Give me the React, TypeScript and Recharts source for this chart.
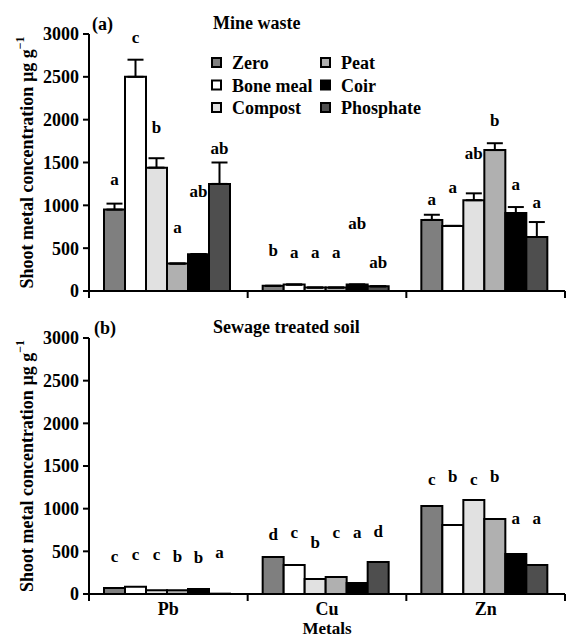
import React from 'react';
import { BarChart, Bar, XAxis, YAxis, ErrorBar, LabelList } from 'recharts';

// ---------- data ----------
const metals = ['Pb', 'Cu', 'Zn'];
const treatments = ['Zero', 'Bone meal', 'Compost', 'Peat', 'Coir', 'Phosphate'];
const treatmentColors = ['#7f7f7f', '#ffffff', '#e1e1e1', '#b0b0b0', '#000000', '#4e4e4e'];
const yTicks = [0, 500, 1000, 1500, 2000, 2500, 3000];

// (a) Mine waste — one list per metal, in treatment order
const minePb = [950, 2500, 1440, 320, 430, 1250];
const mineCu = [60, 75, 40, 40, 75, 55];
const mineZn = [830, 760, 1060, 1645, 910, 630];
const mineErrPb = [70, 200, 110, 0, 0, 250];
const mineErrCu = [0, 0, 0, 0, 0, 0];
const mineErrZn = [60, 0, 80, 80, 70, 175];
const mineLettersPb = ['a', 'c', 'b', 'a', 'ab', 'ab'];
const mineLettersCu = ['b', 'a', 'a', 'a', 'ab', 'ab'];
const mineLettersZn = ['a', 'a', 'ab', 'b', 'a', 'a'];
const mineLetterHeightPb = [1237, 2895, 1844, 677, 1097, 1599];
const mineLetterHeightCu = [409, 385, 385, 385, 724, 268];
const mineLetterHeightZn = [1004, 1144, 1541, 1926, 1179, 969];

// (b) Sewage treated soil
const sewagePb = [70, 85, 45, 45, 60, 4];
const sewageCu = [434, 340, 176, 200, 130, 375];
const sewageZn = [1032, 809, 1102, 879, 469, 340];
const sewageLettersPb = ['c', 'c', 'c', 'b', 'b', 'a'];
const sewageLettersCu = ['d', 'c', 'b', 'c', 'a', 'd'];
const sewageLettersZn = ['c', 'b', 'c', 'b', 'a', 'a'];
const sewageLetterHeightPb = [370, 395, 395, 375, 365, 420];
const sewageLetterHeightCu = [633, 656, 539, 656, 656, 668];
const sewageLetterHeightZn = [1277, 1312, 1277, 1312, 820, 820];

// ---------- helpers ----------
const FONT = 'Liberation Serif';
const PLOT_LEFT = 89;
const PLOT_RIGHT = 565;
const BAND = (PLOT_RIGHT - PLOT_LEFT) / metals.length;

function buildRows(
  means: number[][],
  errs: number[][] | null,
  letters: string[][],
  heights: number[][]
) {
  return metals.map((m, i) => {
    const row: any = { metal: m };
    treatments.forEach((_, j) => {
      row[`v${j}`] = means[i][j];
      row[`e${j}`] = [0, errs ? errs[i][j] : 0];
      row[`l${j}`] = letters[i][j];
      row[`h${j}`] = heights[i][j];
    });
    return row;
  });
}

const mineRows = buildRows(
  [minePb, mineCu, mineZn],
  [mineErrPb, mineErrCu, mineErrZn],
  [mineLettersPb, mineLettersCu, mineLettersZn],
  [mineLetterHeightPb, mineLetterHeightCu, mineLetterHeightZn]
);
const sewageRows = buildRows(
  [sewagePb, sewageCu, sewageZn],
  null,
  [sewageLettersPb, sewageLettersCu, sewageLettersZn],
  [sewageLetterHeightPb, sewageLetterHeightCu, sewageLetterHeightZn]
);

const XTick = (props: any) => {
  const { x, y, payload, index, showLabels } = props;
  const right = x + BAND / 2;
  const left = x - BAND / 2;
  return (
    <g>
      {index === 0 && <line x1={left} y1={y} x2={left} y2={y + 7} stroke="#000" strokeWidth={2} />}
      <line x1={right} y1={y} x2={right} y2={y + 7} stroke="#000" strokeWidth={2} />
      {showLabels && (
        <text x={x} y={y + 21} textAnchor="middle" fontFamily={FONT} fontWeight="bold" fontSize={18} fill="#000">
          {payload.value}
        </text>
      )}
    </g>
  );
};

const YLabel = (props: any) => {
  const vb = props.viewBox || {};
  const cx = 27;
  const cy = (vb.y ?? 0) + (vb.height ?? 0) / 2;
  return (
    <text
      x={cx}
      y={cy}
      transform={`rotate(-90, ${cx}, ${cy})`}
      textAnchor="middle"
      dominantBaseline="central"
      fontFamily={FONT}
      fontWeight="bold"
      fontSize={18}
      fill="#000"
    >
      Shoot metal concentration µg g<tspan dy={-7} fontSize={12}>−1</tspan>
    </text>
  );
};

function Panel({ rows, height, top, bottom, showErrors, showXLabels }: any) {
  const plotH = height - top - bottom;
  const k = plotH / 3000;
  return (
    <BarChart
      width={567}
      height={height}
      data={rows}
      margin={{ top, right: 2, bottom: 0, left: 39 }}
      barCategoryGap={15}
      barGap={0}
      style={{ fontFamily: FONT }}
    >
      <XAxis
        dataKey="metal"
        height={bottom}
        axisLine={{ stroke: '#000', strokeWidth: 2 }}
        tickLine={false}
        tickSize={0}
        tickMargin={0}
        interval={0}
        tick={<XTick showLabels={showXLabels} />}
      />
      <YAxis
        width={50}
        domain={[0, 3000]}
        ticks={yTicks}
        interval={0}
        axisLine={{ stroke: '#000', strokeWidth: 2 }}
        tickLine={{ stroke: '#000', strokeWidth: 2 }}
        tickSize={6}
        tickMargin={4}
        tick={{ fill: '#000', fontSize: 18, fontFamily: FONT, fontWeight: 'bold' }}
        label={{ content: (p: any) => <YLabel {...p} /> }}
      />
      {treatments.map((t, j) => (
        <Bar
          key={t}
          dataKey={`v${j}`}
          name={t}
          fill={treatmentColors[j]}
          stroke="#000"
          strokeWidth={2}
          isAnimationActive={false}
        >
          {showErrors && (
            <ErrorBar dataKey={`e${j}`} width={8} stroke="#000" strokeWidth={2} direction="y" />
          )}
          <LabelList
            dataKey={`l${j}`}
            content={(p: any) => {
              const vb = p.viewBox || {};
              const x = Number(p.x ?? vb.x);
              const y = Number(p.y ?? vb.y);
              const w = Number(p.width ?? vb.width);
              const h = Number(p.height ?? vb.height);
              const idx = p.index;
              if (idx == null || !rows[idx]) return null;
              const base = y + h;
              const ly = base - rows[idx][`h${j}`] * k;
              return (
                <text x={x + w / 2} y={ly} textAnchor="middle" fontFamily={FONT} fontWeight="bold" fontSize={17} fill="#000">
                  {p.value}
                </text>
              );
            }}
          />
        </Bar>
      ))}
    </BarChart>
  );
}

const legendRows = [
  [0, 3],
  [1, 4],
  [2, 5],
];

export default function App() {
  return (
    <div style={{ position: 'absolute', left: 0, top: 0, width: 567, height: 637, background: '#fff', fontFamily: FONT }}>
      <div style={{ position: 'absolute', left: 0, top: 0 }}>
        <Panel rows={mineRows} height={310} top={34} bottom={19} showErrors={true} showXLabels={false} />
      </div>
      <div style={{ position: 'absolute', left: 0, top: 310 }}>
        <Panel rows={sewageRows} height={327} top={28} bottom={43} showErrors={false} showXLabels={true} />
      </div>
      <svg width={567} height={637} style={{ position: 'absolute', left: 0, top: 0, pointerEvents: 'none' }}>
        <text x={92} y={30} fontFamily={FONT} fontWeight="bold" fontSize={18}>(a)</text>
        <text x={213} y={29} fontFamily={FONT} fontWeight="bold" fontSize={18}>Mine waste</text>
        <text x={94} y={334} fontFamily={FONT} fontWeight="bold" fontSize={18}>(b)</text>
        <text x={213} y={333} fontFamily={FONT} fontWeight="bold" fontSize={18}>Sewage treated soil</text>
        <text x={327} y={634} textAnchor="middle" fontFamily={FONT} fontWeight="bold" fontSize={17}>Metals</text>
        {legendRows.map((pair, r) =>
          pair.map((ti, c) => {
            const sx = c === 0 ? 211 : 320;
            const cy = 63 + r * 22.5;
            return (
              <g key={`${r}-${c}`}>
                <rect x={sx + 1} y={cy - 5} width={9} height={9} fill={treatmentColors[ti]} stroke="#000" strokeWidth={2} />
                <text x={sx + 21} y={cy + 6} fontFamily={FONT} fontWeight="bold" fontSize={18}>{treatments[ti]}</text>
              </g>
            );
          })
        )}
      </svg>
    </div>
  );
}
